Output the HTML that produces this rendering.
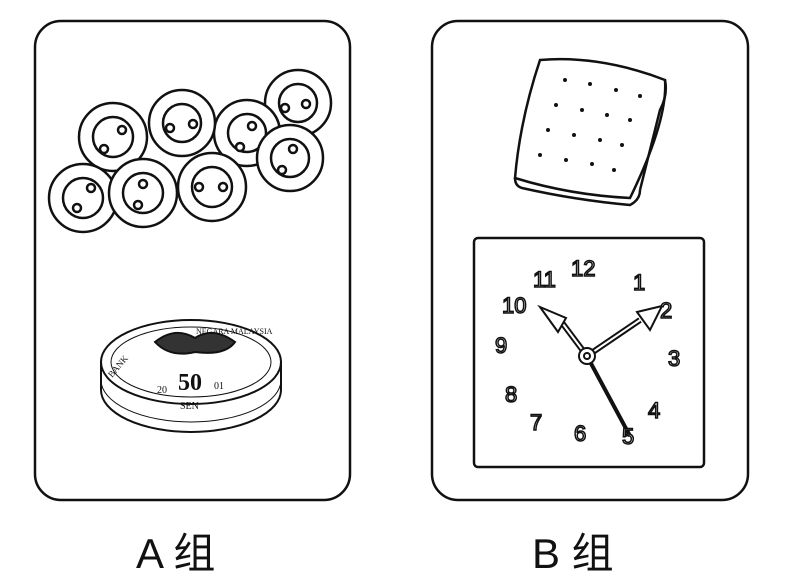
<!DOCTYPE html>
<html><head><meta charset="utf-8"><style>
html,body{margin:0;padding:0;background:#fff;width:785px;height:581px;overflow:hidden}
</style></head><body>
<svg width="785" height="581" viewBox="0 0 785 581" xmlns="http://www.w3.org/2000/svg">
<g fill="none" stroke="#111" stroke-width="2.5">
<rect x="35" y="21" width="315" height="479" rx="26"/>
<rect x="432" y="21" width="316" height="479" rx="26"/>
</g>
<g stroke="#111" stroke-width="2.5" fill="#fff">
<g><circle cx="298" cy="103" r="33"/><circle cx="298" cy="103" r="19"/><circle cx="285" cy="108" r="4"/><circle cx="306" cy="104" r="4"/></g>
<g><circle cx="247" cy="133" r="33"/><circle cx="247" cy="133" r="19"/><circle cx="252" cy="126" r="4"/><circle cx="240" cy="147" r="4"/></g>
<g><circle cx="182" cy="123" r="33"/><circle cx="182" cy="123" r="19"/><circle cx="170" cy="128" r="4"/><circle cx="193" cy="124" r="4"/></g>
<g><circle cx="113" cy="137" r="34"/><circle cx="113" cy="137" r="20"/><circle cx="122" cy="130" r="4"/><circle cx="104" cy="149" r="4"/></g>
<g><circle cx="290" cy="158" r="33"/><circle cx="290" cy="158" r="19"/><circle cx="293" cy="149" r="4"/><circle cx="282" cy="170" r="4"/></g>
<g><circle cx="83" cy="198" r="34"/><circle cx="83" cy="198" r="20"/><circle cx="91" cy="188" r="4"/><circle cx="77" cy="208" r="4"/></g>
<g><circle cx="143" cy="193" r="34"/><circle cx="143" cy="193" r="20"/><circle cx="143" cy="184" r="4"/><circle cx="138" cy="205" r="4"/></g>
<g><circle cx="212" cy="187" r="34"/><circle cx="212" cy="187" r="20"/><circle cx="199" cy="187" r="4"/><circle cx="223" cy="187" r="4"/></g>
</g>
<!-- coin -->
<g stroke="#111" stroke-width="2" fill="#fff">
<path d="M101 362 L101 390 A90 42 0 0 0 281 390 L281 362 Z"/>
<path d="M101 380 A90 42 0 0 0 281 380" stroke-width="1" fill="none"/>
<ellipse cx="191" cy="362" rx="90" ry="42"/>
<ellipse cx="191" cy="362" rx="80" ry="35" stroke-width="1"/>
<path d="M155 342 q20 -16 40 -4 q18 -12 40 4 q-10 14 -40 10 q-25 6 -40 -10z" fill="#333"/>
</g>
<g font-family="Liberation Serif, serif" fill="#111">
<text x="178" y="390" font-size="24" font-weight="bold">50</text>
<text x="157" y="393" font-size="10">20</text><text x="214" y="389" font-size="10">01</text>
<text x="180" y="409" font-size="10">SEN</text>
<text x="112" y="378" font-size="9" transform="rotate(-50 112 378)">BANK</text>
<text x="196" y="334" font-size="8">NEGARA MALAYSIA</text>
</g>
<!-- cracker -->
<g stroke="#111" stroke-width="2.5" fill="#fff">
<path d="M540 60 Q600 55 665 80 Q668 120 630 198 Q570 195 515 178 Q520 120 540 60Z"/>
<path d="M515 178 Q515 186 522 188 Q575 200 630 205 Q640 200 640 190" fill="none"/>
<path d="M665 80 Q668 95 660 110 L640 190" fill="none"/>
</g>
<g fill="#111">
<circle cx="565" cy="80" r="2"/><circle cx="590" cy="84" r="2"/><circle cx="616" cy="90" r="2"/><circle cx="640" cy="96" r="2"/>
<circle cx="556" cy="105" r="2"/><circle cx="582" cy="110" r="2"/><circle cx="607" cy="115" r="2"/><circle cx="630" cy="120" r="2"/>
<circle cx="548" cy="130" r="2"/><circle cx="574" cy="135" r="2"/><circle cx="600" cy="140" r="2"/><circle cx="622" cy="145" r="2"/>
<circle cx="540" cy="155" r="2"/><circle cx="566" cy="160" r="2"/><circle cx="592" cy="164" r="2"/><circle cx="614" cy="170" r="2"/>
</g>
<!-- clock -->
<rect x="474" y="238" width="230" height="229" rx="4" fill="none" stroke="#111" stroke-width="2.5"/>
<g stroke="#111" stroke-width="2" fill="#fff">
<path d="M587 356 L560 320" stroke-width="6"/><path d="M587 356 L560 320" stroke="#fff" stroke-width="2"/>
<path d="M540 307 L558 332 L566 318 Z"/>
<path d="M587 356 L640 320" stroke-width="6"/><path d="M587 356 L640 320" stroke="#fff" stroke-width="2"/>
<path d="M637 312 L662 306 L650 330 Z"/>
<path d="M587 356 L630 436" stroke-width="4"/>
<circle cx="587" cy="356" r="8"/><circle cx="587" cy="356" r="3"/>
</g>
<g font-family="Liberation Sans, sans-serif" font-size="22" fill="#fff" stroke="#111" stroke-width="1.5">
<text x="571" y="276">12</text><text x="533" y="287">11</text><text x="502" y="313">10</text>
<text x="633" y="290">1</text><text x="660" y="318">2</text><text x="668" y="366">3</text>
<text x="648" y="418">4</text><text x="622" y="444">5</text><text x="574" y="441">6</text>
<text x="530" y="430">7</text><text x="505" y="402">8</text><text x="495" y="353">9</text>
</g>
<g font-family="Liberation Sans, 'Noto Sans CJK SC', sans-serif" font-size="42" fill="#111">
<text x="136" y="568">A 组</text>
<text x="532" y="568">B 组</text>
</g>
</svg>
</body></html>
